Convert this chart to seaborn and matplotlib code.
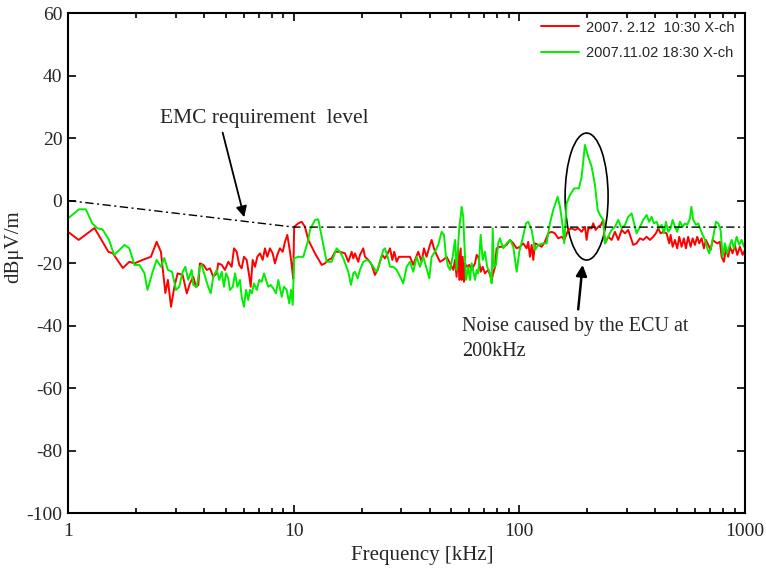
import numpy as np
import matplotlib
matplotlib.use("Agg")
import matplotlib.pyplot as plt
import seaborn as sns
from matplotlib.patches import Ellipse
from matplotlib.ticker import LogLocator, NullFormatter

red_f_1 = [1.0, 1.115, 1.31, 1.51, 1.58, 1.75, 1.87, 1.97, 2.14, 2.33,
           2.47, 2.58, 2.70, 2.77, 2.86, 2.96, 3.06, 3.22,
           3.36, 3.47, 3.59, 3.69, 3.78, 3.84, 3.98, 4.12, 4.26, 4.40,
           4.56, 4.63, 4.80, 4.96, 5.13, 5.31, 5.44, 5.59, 5.74, 5.88,
           6.02, 6.19, 6.36, 6.45, 6.58, 6.74, 6.90, 7.09, 7.29, 7.46,
           7.64, 7.85, 8.07, 8.26, 8.46, 8.69, 8.94, 9.15, 9.37, 9.63,
           9.80, 9.95]
red_db_1 = [-10.0, -12.6, -8.8, -16.4, -16.9, -21.6, -19.6, -20.1, -19.0, -18.0,
            -13.2, -16.4, -29.6, -25.4, -34.0, -27.6, -23.3, -23.8,
            -29.7, -26.5, -24.4, -27.6, -27.0, -20.1, -20.6, -22.2, -21.7, -24.4,
            -23.3, -20.1, -20.6, -22.2, -19.6, -21.2, -15.3, -16.4, -20.6, -21.7,
            -18.0, -19.0, -24.4, -27.6, -19.0, -21.2, -18.0, -16.9, -19.0, -15.3,
            -18.0, -15.3, -16.9, -20.1, -17.4, -15.3, -16.4, -13.2, -11.0, -16.4,
            -20.6, -25.0]

red_f_2 = [10.05, 10.48, 10.85, 11.22, 11.61, 12.43, 13.31, 13.76, 14.23, 14.73,
           15.24, 16.04, 16.88, 17.46, 18.07, 18.37, 18.69, 19.33, 19.67, 20.34,
           20.70, 21.41, 22.16, 22.91, 23.56, 24.12, 24.70, 25.38, 26.1, 26.72,
           27.35, 27.91, 28.6, 29.29, 31.1, 32.75, 33.88,
           34.47, 35.65, 36.9, 37.77, 38.8, 40.17, 40.86, 41.84, 43.0, 44.5,
           46.0, 47.6, 49.3, 50.95, 51.85, 52.7, 53.6, 54.2, 54.95, 55.5,
           56.1, 56.85, 57.4, 58.4, 60.0, 61.5, 63.6, 64.7, 65.8, 67.4,
           68.8, 70.4, 72.8, 74.1, 75.4, 76.6, 77.98, 79.3, 82.0, 84.9,
           87.8, 90.9, 93.98, 97.3]
red_db_2 = [-8.4, -7.3, -6.8, -8.4, -12.6, -16.9, -20.6, -20.1, -19.0, -18.5,
            -16.4, -16.4, -16.9, -19.6, -16.4, -18.5, -16.9, -19.6, -17.4, -15.3,
            -18.0, -19.0, -20.6, -23.8, -22.2, -19.6, -17.4, -18.5, -16.9, -15.3,
            -19.0, -16.4, -19.6, -18.0, -18.0, -18.0, -20.6,
            -19.0, -16.4, -19.6, -15.3, -18.0, -14.2, -12.6, -15.3, -17.4, -19.6,
            -19.0, -18.0, -20.1, -22.2, -19.0, -24.4, -15.8, -25.4, -15.3, -25.4,
            -18.0, -26.0, -20.1, -21.2, -20.6, -22.2, -20.1, -17.4, -18.0, -22.8,
            -21.2, -23.3, -22.2, -23.8, -25.4, -23.3, -21.2, -15.3, -14.8, -14.8,
            -14.2, -12.6, -13.7, -15.3]

red_f_3 = [100.6, 104.0, 107.7, 109.5, 111.4, 113.4, 115.3, 117.3, 121.3, 125.6,
           129.8, 134.3, 139.0, 143.8, 148.7, 153.9, 158.1, 164.7, 170.5, 176.3,
           182.4, 188.8, 195.3, 198.7, 202.0, 209.1, 212.5, 217.8, 223.7, 229.9,
           235.4, 239.5, 247.7, 256.4, 265.2, 274.3, 284.0, 293.8, 303.8,
           319.6, 330.9, 342.2, 354.0, 366.4, 379.0, 391.8, 402.7, 412.5, 422.7,
           434.1, 449.3, 461.4, 468.0, 477.8, 489.3, 500.8, 511.1, 523.6, 535.8,
           547.0, 559.8, 574.1, 586.1, 599.8, 614.2, 626.8, 642.4, 657.6, 671.0,
           687.1, 704.1, 718.6, 735.6, 753.1, 774.0, 787.6, 806.3, 823.0, 842.5,
           857.2, 881.0, 901.6, 923.6, 949.1, 975.8, 1000.0]
red_db_3 = [-14.8, -13.7, -15.3, -13.2, -18.0, -14.2, -19.0, -13.7, -14.2, -14.8,
            -13.2, -10.5, -10.0, -10.5, -12.1, -11.6, -12.6, -9.4, -8.9, -9.4,
            -8.9, -10.0, -8.4, -12.6, -8.9, -8.9, -7.3, -9.4, -8.4, -7.8,
            -6.2, -13.7, -11.6, -12.6, -10.0, -12.6, -9.4, -10.5, -9.4,
            -14.2, -13.7, -12.1, -12.6, -11.6, -12.6, -11.6, -10.5, -8.9, -10.5,
            -10.0, -10.5, -13.7, -11.0, -14.8, -12.6, -15.3, -11.6, -14.8, -12.1,
            -15.3, -11.6, -14.8, -12.1, -14.2, -11.6, -13.7, -12.1, -15.3, -12.6,
            -14.2, -15.8, -12.6, -13.2, -13.7, -13.2, -18.0, -19.6, -15.3, -18.0,
            -14.8, -16.9, -14.2, -17.4, -14.8, -17.4, -15.8]

green_f_1 = [1.0, 1.12, 1.20, 1.28, 1.35, 1.42, 1.52, 1.60, 1.69, 1.78,
             1.87, 1.97, 2.07, 2.18, 2.25, 2.36, 2.47, 2.58, 2.67, 2.77,
             2.89, 3.01, 3.11, 3.22, 3.31,
             3.41, 3.53, 3.59, 3.72, 3.84, 3.91, 4.05, 4.18, 4.29, 4.40,
             4.56, 4.68, 4.80, 4.91, 5.01, 5.13, 5.22, 5.37, 5.50, 5.63,
             5.78, 5.88, 6.02, 6.15, 6.29, 6.40, 6.52, 6.67, 6.86, 7.04,
             7.21, 7.39, 7.54, 7.72, 7.91, 8.12, 8.35, 8.55, 8.85, 9.06,
             9.31, 9.56, 9.73, 9.90]
green_db_1 = [-5.7, -2.8, -2.8, -7.3, -8.9, -9.2, -12.6, -17.4, -15.8, -14.2,
              -15.3, -20.6, -20.6, -23.2, -28.6, -23.3, -19.0, -21.2, -18.4, -22.2,
              -22.8, -28.6, -27.6, -22.8, -21.2,
              -25.4, -22.2, -27.0, -27.6, -21.2, -20.6, -24.4, -27.6, -29.7, -24.4,
              -22.2, -25.4, -22.8, -27.6, -23.3, -24.9, -28.6, -27.6, -23.3, -27.6,
              -25.4, -30.8, -34.0, -28.6, -31.8, -28.6, -29.7, -26.5, -28.6, -25.4,
              -26.0, -23.3, -25.4, -27.6, -27.0, -28.1, -29.7, -25.4, -30.8, -27.6,
              -28.6, -32.9, -28.6, -33.4]

green_f_2 = [10.05, 10.48, 11.03, 11.61, 11.81, 12.43, 12.85, 13.31, 13.76, 14.0,
             14.73, 15.50, 16.04, 16.59, 17.46, 17.94, 18.37, 18.69, 19.21, 19.67,
             20.34, 21.06, 21.78, 22.52, 23.32, 24.12, 24.95, 25.38, 26.1, 26.72,
             27.63, 28.6, 29.88, 30.59, 31.67, 32.75,
             33.88, 35.07, 36.27, 37.52, 38.8, 39.9, 40.86, 42.27, 43.72, 45.24,
             46.34, 47.29, 48.4, 49.3, 50.65, 51.85, 52.7, 54.2, 54.95, 55.5,
             56.4, 57.0, 58.0, 59.4, 60.4, 61.5, 63.6, 64.7, 65.8, 67.4,
             68.8, 70.4, 72.0, 74.1, 75.4, 76.2, 77.2, 78.8, 80.6, 82.0,
             84.9, 87.8, 90.9, 93.98, 97.3, 99.9]
green_db_2 = [-18.5, -18.0, -18.0, -12.6, -9.4, -6.2, -6.0, -11.6, -16.9, -19.6,
              -19.6, -15.3, -16.4, -18.5, -22.8, -27.0, -23.3, -22.8, -24.9, -22.2,
              -19.6, -19.0, -19.6, -21.2, -22.8, -19.6, -15.8, -15.3, -18.0, -21.2,
              -21.2, -22.2, -24.9, -26.5, -21.2, -19.6,
              -22.8, -18.0, -21.2, -18.0, -21.7, -24.9, -18.0, -16.4, -14.2, -10.0,
              -11.0, -18.0, -21.2, -22.2, -18.0, -12.6, -22.2, -8.4, -5.2, -2.0,
              -5.2, -12.6, -25.4, -21.2, -25.4, -20.1, -25.4, -22.2, -23.3, -11.0,
              -19.0, -16.4, -21.2, -23.3, -26.5, -8.9, -21.2, -20.6, -13.7, -12.1,
              -15.3, -13.7, -12.6, -14.8, -22.8, -16.4]

green_f_3 = [103.4, 107.0, 109.5, 113.4, 117.3, 121.3, 127.6, 132.1, 136.6, 141.3,
             147.8, 151.4, 155.0, 158.1, 162.0, 167.6, 175.1, 183.7, 188.8, 195.3,
             202.0, 209.1, 216.3, 222.3, 227.6, 235.4, 239.5, 247.7, 256.4, 265.2,
             274.3, 284.0, 293.8, 303.8, 314.6,
             319.6, 330.9, 342.2, 354.0, 366.4, 376.3, 385.5, 394.5, 405.6, 416.8,
             427.1, 437.2, 446.2, 456.8, 468.0, 477.8, 489.3, 500.8, 514.9, 529.2,
             541.7, 554.6, 570.1, 578.2, 589.7, 606.0, 620.4, 635.9, 649.0, 665.3,
             680.1, 694.2, 711.2, 727.8, 743.0, 760.7, 779.7, 795.7, 814.7, 833.8,
             851.1, 872.2, 892.9, 917.8, 942.7, 966.1, 990.0]
green_db_3 = [-12.1, -7.3, -6.8, -9.4, -15.8, -14.2, -13.7, -13.7, -7.3, -3.0,
              1.2, -2.0, -7.3, -13.7, -0.9, 1.8, 3.9, 3.9, 7.6, 17.8,
              14.0, 10.8, 5.0, -3.0, -4.6, -6.2, -13.7, -11.6, -9.4, -8.4,
              -6.2, -8.9, -7.8, -5.2, -4.1,
              -6.2, -10.5, -8.4, -6.2, -4.6, -6.8, -5.2, -7.3, -6.8, -8.9,
              -7.8, -10.5, -6.8, -10.0, -8.9, -6.2, -8.4, -10.0, -6.8, -8.4,
              -7.3, -7.8, -5.7, -2.0, -6.2, -7.8, -7.3, -9.4, -11.0, -12.6,
              -15.3, -16.9, -14.2, -10.5, -6.8, -7.3, -9.4, -18.0, -13.7, -16.9,
              -14.8, -12.6, -15.3, -11.6, -14.2, -12.6, -14.8]

# EMC requirement level
emc_f = [1, 10, 1000]
emc_db = [0, -8.5, -8.5]

red_f = red_f_1 + red_f_2 + red_f_3
red_db = red_db_1 + red_db_2 + red_db_3
green_f = green_f_1 + green_f_2 + green_f_3
green_db = green_db_1 + green_db_2 + green_db_3

sns.set_style("ticks")
plt.rcParams['font.family'] = ['Liberation Serif', 'DejaVu Serif']
plt.rcParams['axes.unicode_minus'] = False

fig = plt.figure(figsize=(7.66, 5.68), dpi=100)
ax = fig.add_axes([0.0888, 0.0968, 0.8838, 0.8802])

sns.lineplot(x=red_f, y=red_db, color='#ff0000', lw=1.4, estimator=None,
             sort=False, ax=ax, label='2007. 2.12  10:30 X-ch')
sns.lineplot(x=green_f, y=green_db, color='#00ee00', lw=1.4, estimator=None,
             sort=False, ax=ax, label='2007.11.02 18:30 X-ch')
sns.lineplot(x=emc_f, y=emc_db, color='black', lw=1.0, estimator=None,
             sort=False, ax=ax, linestyle=(0, (6, 2.5, 1.5, 2.5)))

ax.set_xscale('log')
ax.set_xlim(1, 1000)
ax.set_ylim(-100, 60)
ax.set_xticks([1, 10, 100, 1000], labels=['1', '10', '100', '1000'])
ax.xaxis.set_minor_locator(LogLocator(base=10, subs=np.arange(2, 10)))
ax.xaxis.set_minor_formatter(NullFormatter())
ax.set_yticks(np.arange(-100, 61, 20))
ax.tick_params(which='both', direction='in', top=True, right=True,
               labelsize=14, color='black', width=1.2)
ax.tick_params(which='major', length=6)
ax.tick_params(which='minor', length=3.5)
ax.tick_params(axis='x', which='major', pad=7)
ax.tick_params(axis='y', which='major', pad=4)
for sp in ax.spines.values():
    sp.set_color('black')
    sp.set_linewidth(1.5)

ax.set_xlabel('Frequency [kHz]', fontsize=15)
ax.set_ylabel('dBμV/m', fontsize=15)
ax.xaxis.set_label_coords(0.523, -0.065)
ax.yaxis.set_label_coords(-0.066, 0.532)

ax.legend(loc='upper right', bbox_to_anchor=(0.985, 0.985), frameon=False,
          borderaxespad=0, borderpad=0, handlelength=2.6, handletextpad=0.5,
          labelspacing=0.8, prop={'family': 'Liberation Sans', 'size': 10.5})

# annotations
ax.text(2.56, 26.2, 'EMC requirement  level', fontsize=15.5, va='center', ha='left')
ax.annotate('', xy=(6.08, -6.2), xytext=(4.81, 22.6),
            arrowprops=dict(arrowstyle='-|>', color='black', lw=1.3,
                            mutation_scale=16))
ax.add_patch(Ellipse((0.766, 0.633), 0.0635, 0.254, transform=ax.transAxes,
                     fill=False, edgecolor='black', lw=1.2))
ax.annotate('', xy=(191.3, -19.7), xytext=(181.8, -35.7),
            arrowprops=dict(arrowstyle='-|>', color='black', lw=1.8,
                            mutation_scale=16))
ax.text(55.7, -44.3, 'Noise caused by the ECU at\n200kHz', fontsize=14.5,
        va='center', ha='left', linespacing=1.4)

fig.savefig('out.png', dpi=100)
